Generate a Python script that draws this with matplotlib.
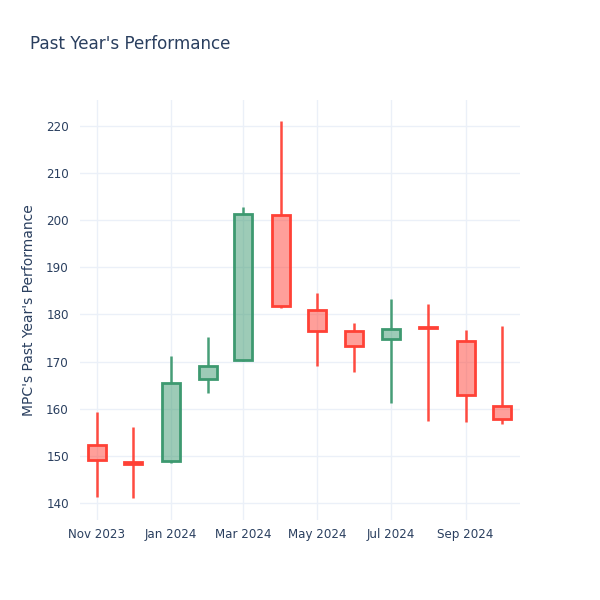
import matplotlib
matplotlib.use("Agg")
import matplotlib.pyplot as plt
import matplotlib.dates as mdates
import numpy as np
import datetime as dt

dates = ["2023-11-01", "2023-12-01", "2024-01-01", "2024-02-01", "2024-03-01", "2024-04-01",
         "2024-05-01", "2024-06-01", "2024-07-01", "2024-08-01", "2024-09-01", "2024-10-01"]
opens = [152.3, 148.8, 149.0, 166.4, 170.3, 201.2, 181.0, 176.4, 174.9, 177.3, 174.4, 160.6]
highs = [159.4, 156.1, 171.2, 175.2, 202.9, 221.1, 184.6, 178.1, 183.2, 182.2, 176.7, 177.6]
lows = [141.3, 141.0, 148.4, 163.4, 170.2, 181.3, 169.1, 167.9, 161.2, 157.5, 157.2, 156.8]
closes = [149.1, 148.3, 165.4, 169.1, 201.3, 181.8, 176.6, 173.4, 176.9, 177.1, 162.9, 157.9]

yticks = [140, 150, 160, 170, 180, 190, 200, 210, 220]
xtick_dates = ["2023-11-01", "2024-01-01", "2024-03-01", "2024-05-01", "2024-07-01", "2024-09-01"]
xtick_labels = ["Nov 2023", "Jan 2024", "Mar 2024", "May 2024", "Jul 2024", "Sep 2024"]

INC = "#3D9970"
DEC = "#FF4136"
TXT = "#2a3f5f"
GRID = "#EBF0F8"

fig = plt.figure(figsize=(6, 6), dpi=100)
ax = fig.add_axes([80/600, 80/600, 440/600, 420/600])

x = mdates.date2num([dt.datetime.strptime(d, "%Y-%m-%d") for d in dates])
body_w = 15.0

for xi, o, h, l, c in zip(x, opens, highs, lows, closes):
    col = INC if c >= o else DEC
    lo_b, hi_b = min(o, c), max(o, c)
    ax.plot([xi, xi], [l, lo_b], color=col, lw=1.8, solid_capstyle="butt", zorder=2, alpha=0.95)
    ax.plot([xi, xi], [hi_b, h], color=col, lw=1.8, solid_capstyle="butt", zorder=2, alpha=0.95)
    ax.bar(xi, hi_b - lo_b, bottom=lo_b, width=body_w, color=col, alpha=0.5,
           linewidth=0, zorder=3)
    ax.bar(xi, hi_b - lo_b, bottom=lo_b, width=body_w, facecolor="none",
           edgecolor=col, linewidth=2, zorder=4)

x0 = mdates.date2num(dt.datetime(2023, 10, 18))
x1 = mdates.date2num(dt.datetime(2024, 10, 16))
ax.set_xlim(x0, x1)
ax.set_ylim(136.4, 225.5)

ax.set_yticks(yticks)
ax.set_xticks(mdates.date2num([dt.datetime.strptime(d, "%Y-%m-%d") for d in xtick_dates]))
ax.set_xticklabels(xtick_labels)

ax.grid(True, color=GRID, lw=1)
ax.set_axisbelow(True)
for s in ax.spines.values():
    s.set_visible(False)
ax.tick_params(length=0, labelsize=8.6, colors=TXT, pad=6)
ax.tick_params(axis="y", pad=8)
ax.set_ylabel("MPC's Past Year's Performance", fontsize=10, color=TXT, labelpad=7)

fig.text(30/600, 1 - 44/600, "Past Year's Performance", fontsize=12.1, color=TXT,
         va="center", ha="left")

fig.savefig("out.png", dpi=100, facecolor="white")
